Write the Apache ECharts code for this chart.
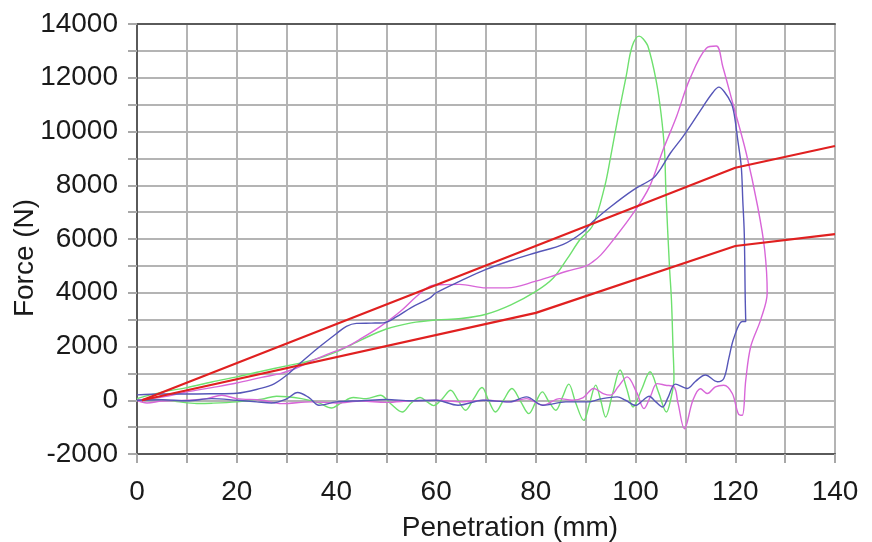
<!DOCTYPE html>
<html>
<head>
<meta charset="utf-8">
<script src="https://cdn.jsdelivr.net/npm/echarts@6/dist/echarts.min.js"></script>
<style>
html,body{margin:0;padding:0;background:#fff;}
#chart{width:872px;height:542px;}
</style>
</head>
<body>
<div id="chart"></div>
<script>
// ---------- data ----------
const xTickLabels = [0, 20, 40, 60, 80, 100, 120, 140];
const yTickLabels = [-2000, 0, 2000, 4000, 6000, 8000, 10000, 12000, 14000];

const redUpperX = [1, 120, 140];
const redUpperY = [0, 8650, 9460];
const redLowerX = [1, 80, 120, 140];
const redLowerY = [0, 3250, 5740, 6180];

const greenX = [0, 5, 10, 15, 20, 25, 30, 35, 40, 45, 50, 55, 60, 65, 70, 75, 80, 83.5, 86.2, 88.9, 91.4, 93.8, 95, 96.5, 98.1, 99.3, 100.7, 101.5, 102.5, 104.1, 105.1, 105.8, 106.1, 106.8, 107.2, 107.5, 107.7,
  107.0, 106.2, 104.6, 102.9, 101.2, 99.5, 98.2, 96.9, 95.4, 94, 93, 92, 90.8, 89.6, 88, 86.6, 85.3, 84, 82.6, 81.3, 79.9, 78.6, 76.9, 75.2, 73.5, 71.9, 70.5, 69.2, 67.5, 65.9, 64.4, 62.9, 61.2, 59.5, 58.2, 56.8, 55, 53.2, 51, 48.8, 46, 43.4, 41, 39, 36.5, 33, 28, 25, 20, 15, 12, 8, 4, 0];
const greenY = [60, 300, 470, 680, 870, 1080, 1280, 1480, 1800, 2250, 2650, 2880, 2990, 3040, 3200, 3550, 4050, 4550, 5240, 5990, 6500, 7950, 9060, 10550, 12040, 13160, 13550, 13450, 13160, 11920, 10680, 9310, 7700, 4970, 3720, 2000, 800,
  0, -437, 300, 1060, 400, -250, 450, 1124, 250, -625, 0, 562, -100, -750, -100, 600, 100, -372, -50, 310, -100, -497, -30, 435, 0, -435, 0, 472, 50, -372, 0, 372, 50, -200, -60, 100, -100, -435, -150, 186, 60, 100, -100, -290, -100, 60, 150, 40, -60, -110, -120, -50, 30, 0];

const blueX = [0, 5, 10, 15, 20, 25, 27.4, 30, 33, 36, 40, 42, 44, 47, 49.4, 52, 55, 58.7, 60, 65, 70, 75, 80, 85.5, 89.4, 91.4, 95, 99.5, 103.5, 105.1, 107, 109.5, 113.5, 115.5, 116.7, 117.8, 119.2, 119.8, 120.5, 121.2, 121.5, 121.8, 122, 122.1,
  121.4, 119.7, 118.7, 117.7, 116.4, 114, 112, 110.4, 108, 106.5, 105.4, 104, 102.7, 101.5, 100, 98, 96.3, 93, 90.5, 86, 81.4, 78.1, 74.7, 69.4, 64.4, 60, 55, 50, 45, 40, 36.5, 34.5, 32.2, 30, 27, 24, 20, 15, 10, 5, 0];
const blueY = [200, 230, 230, 240, 260, 450, 600, 930, 1420, 1900, 2480, 2750, 2860, 2870, 2880, 3100, 3450, 3800, 4000, 4450, 4870, 5200, 5490, 5800, 6250, 6640, 7200, 7820, 8260, 8630, 9200, 9810, 10920, 11450, 11650, 11480, 11050, 10620, 9680, 8690, 7450, 6210, 3720, 2930,
  2930, 2310, 1560, 810, 690, 940, 700, 440, 600, 100, -250, -50, 150, 0, -190, 0, 124, 50, -62, -60, -186, 124, -62, 0, -186, 0, -20, 30, -20, -60, -186, 100, 286, 50, -100, -60, 0, 60, -20, 20, 0];

const pinkX = [0, 5, 10, 15, 20, 25, 28.7, 32, 35.3, 38, 42, 45, 48.7, 52.8, 56.1, 58.7, 61, 64.7, 70, 74.3, 80, 82.8, 86.2, 90, 91.4, 93, 95.5, 99.5, 102.8, 105.5, 108.2, 110.8, 114.2, 116.2, 117.5, 119.5, 122.2, 124.5, 125.9, 126.4,
  125.1, 123.1, 122.1, 121.4, 120.6, 119.4, 117.7, 116, 114.4, 113, 111.5, 109.8, 108.5, 107.7, 106, 104.3, 103, 101.7, 100.2, 98.3, 96.5, 95, 93.5, 91.6, 89.5, 87.3, 84.8, 81.4, 78.1, 74.7, 70, 65, 60, 55, 50, 45, 40, 35, 29, 25, 20, 17, 14, 10, 5, 2, 0];
const pinkY = [0, 120, 310, 470, 640, 850, 990, 1200, 1490, 1700, 1990, 2300, 2730, 3300, 3870, 4240, 4300, 4310, 4180, 4180, 4430, 4590, 4800, 4990, 5150, 5400, 5960, 6950, 7950, 9310, 10550, 11920, 13100, 13180, 12410, 11050, 9190, 7200, 5590, 4000,
  3000, 2000, 750, -560, -500, 250, 560, 500, 250, 430, 0, -1060, -100, 500, 560, 620, 150, -310, 300, 870, 500, 190, 250, 440, 100, 0, 62, -186, 62, -62, 0, -60, 0, -20, -80, -30, -100, -60, -124, 0, 60, 186, 60, 0, -30, -100, 0];

// ---------- chart ----------
const zip = (xs, ys) => xs.map((x, i) => [x, ys[i]]);
const FONT = "'Liberation Sans', Arial, sans-serif";
const chart = echarts.init(document.getElementById('chart'), null, {renderer: 'canvas'});

function curve(name, xs, ys, color, width, smooth) {
  return {
    name, type: 'line', data: zip(xs, ys), showSymbol: false, symbol: 'none',
    smooth: smooth, lineStyle: {color, width}, itemStyle: {color}, z: 3, animation: false
  };
}

chart.setOption({
  animation: false,
  backgroundColor: '#ffffff',
  grid: {left: 137, right: 37, top: 24, bottom: 88, containLabel: false},
  xAxis: [{
    type: 'value', min: 0, max: 140, interval: 10,
    axisLine: {show: true, onZero: false, lineStyle: {color: '#5a5a5a', width: 2}},
    axisTick: {show: true, length: 9, lineStyle: {color: '#a8a8a8', width: 2}},
    axisLabel: {margin: 24, fontSize: 28, color: '#1a1a1a', fontFamily: FONT,
      formatter: v => xTickLabels.includes(v) ? String(v) : ''},
    splitLine: {show: true, lineStyle: {color: '#b4b4b4', width: 2}}
  }, {
    type: 'value', min: 0, max: 140, position: 'top',
    axisLine: {show: true, onZero: false, lineStyle: {color: '#5a5a5a', width: 2}},
    axisTick: {show: false}, axisLabel: {show: false}, splitLine: {show: false}
  }],
  yAxis: {
    type: 'value', min: -2000, max: 14000, interval: 1000,
    axisLine: {show: true, onZero: false, lineStyle: {color: '#5a5a5a', width: 2}},
    axisTick: {show: true, length: 9, lineStyle: {color: '#a8a8a8', width: 2}},
    axisLabel: {margin: 19, fontSize: 28, color: '#1a1a1a', fontFamily: FONT,
      formatter: v => yTickLabels.includes(v) ? String(v) : ''},
    splitLine: {show: true, lineStyle: {color: '#b4b4b4', width: 2}}
  },
  graphic: [
    {type: 'text', x: 510, y: 528, style: {text: 'Penetration (mm)', font: "28px " + FONT, fill: '#1a1a1a', align: 'center', verticalAlign: 'middle'}},
    {type: 'text', x: 25, y: 258, rotation: Math.PI / 2, style: {text: 'Force (N)', font: "28px " + FONT, fill: '#1a1a1a', align: 'center', verticalAlign: 'middle'}}
  ],
  series: [
    curve('green', greenX, greenY, '#6ee06e', 1.4, 0.35),
    curve('pink', pinkX, pinkY, '#d866d8', 1.4, 0.35),
    curve('blue', blueX, blueY, '#5656b8', 1.4, 0.35),
    curve('redUpper', redUpperX, redUpperY, '#e02020', 2.2, false),
    curve('redLower', redLowerX, redLowerY, '#e02020', 2.2, false)
  ]
});
</script>
</body>
</html>
